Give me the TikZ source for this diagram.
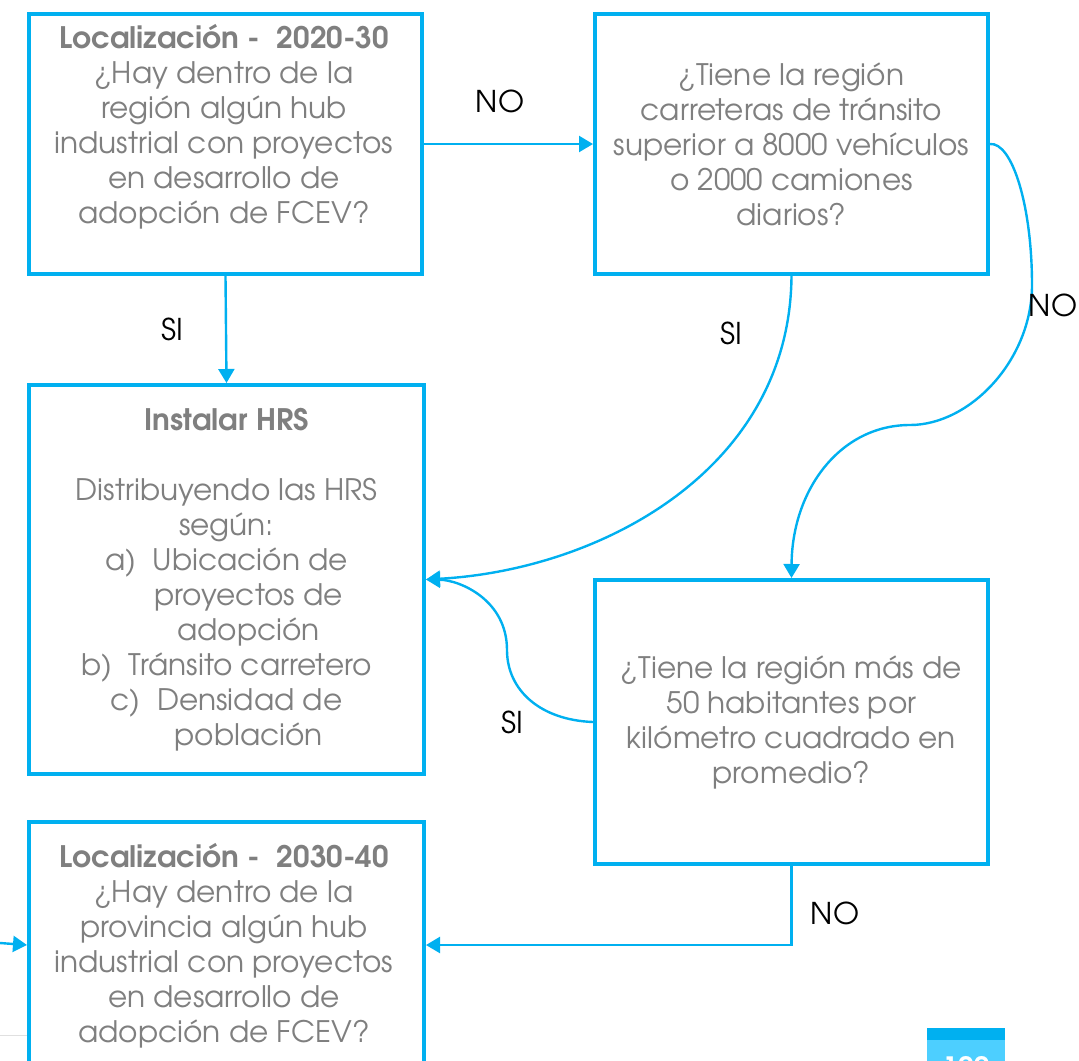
\documentclass[tikz,border=0pt]{standalone}
\usepackage{fontspec}
\setmainfont{texgyreadventor-regular.otf}[BoldFont=texgyreadventor-bold.otf]
\usetikzlibrary{arrows.meta}
\definecolor{lblue}{RGB}{0,176,240}
\definecolor{tgray}{RGB}{127,127,127}
\definecolor{pblue}{RGB}{77,207,255}
\begin{document}
\begin{tikzpicture}[x=0.75pt,y=-0.75pt,
  box/.style={draw=lblue, line width=3pt, fill=white, inner sep=0pt, anchor=north west},
  txt/.style={text=tgray, font=\fontsize{22.2}{26.25}\selectfont, align=center, inner sep=0pt},
  lbl/.style={text=black, font=\fontsize{22.5}{26}\selectfont, inner sep=0pt},
  conn/.style={draw=lblue, line width=1.8pt, -{Triangle[length=10.5pt,width=12pt]}}]
\useasboundingbox (0,0) rectangle (1079,1061);
\clip (0,0) rectangle (1079,1061);

% footer line
\draw[black!12, line width=0.75pt] (0,1035) -- (30,1035);

% boxes
\node[box, minimum width=294.75pt, minimum height=195pt] (A) at (27,12) {};
\node[txt] (At) at (224,127) {\textbf{Localización -\ \ 2020-30}\\¿Hay dentro de la\\región algún hub\\industrial con proyectos\\en desarrollo de\\adopción de FCEV?};

\node[box, minimum width=294.75pt, minimum height=195pt, txt] (B) at (593,12)
  {¿Tiene la región\\carreteras de tránsito\\superior a 8000 vehículos\\o 2000 camiones\\diarios?};

\node[box, minimum width=296.25pt, minimum height=291.75pt, txt] (C) at (27,383)
  {\textbf{Instalar HRS}\\[26.25pt]Distribuyendo las HRS\\según:\\a)\ \ Ubicación de\\\hspace*{1.5em}proyectos de\\\hspace*{1.5em}adopción\\b)\ \ Tránsito carretero\\c)\ \ Densidad de\\\hspace*{1.5em}población};

\node[box, minimum width=294.75pt, minimum height=213pt, txt] (D) at (593,578)
  {¿Tiene la región más de\\50 habitantes por\\kilómetro cuadrado en\\promedio?};

\node[box, minimum width=296.25pt, minimum height=184.5pt] (E) at (27,820) {};
\node[txt] (Et) at (224,946) {\textbf{Localización -\ \ 2030-40}\\¿Hay dentro de la\\provincia algún hub\\industrial con proyectos\\en desarrollo de\\adopción de FCEV?};

% connectors
\draw[conn] (A.east) -- (B.west);
\draw[conn] (A.south) -- (C.north);
\draw[conn] (B.south) .. controls (790,470) and (600,570) .. (C.east);
\draw[conn] (B.east) .. controls (1012,142) and (1032,205) .. (1032,285)
  .. controls (1032,360) and (970,425) .. (910,425)
  .. controls (840,425) and (792,490) .. (D.north);
\draw[conn] (D.west) .. controls (540,720) and (507,690) .. (507,650)
  .. controls (507,600) and (460,580) .. (C.east);
\draw[conn] (D.south) |- (E.east);
\coordinate (L) at (0,943);
\draw[conn] (L) -- (E.west);

% labels
\node[lbl] (l1) at (500,101) {NO};
\node[lbl] (l2) at (172,329) {SI};
\node[lbl] (l3) at (731,333) {SI};
\node[lbl] (l4) at (1053,305) {NO};
\node[lbl] (l5) at (512,722) {SI};
\node[lbl] (l6) at (835,913) {NO};

% page number
\fill[pblue] (927,1040) rectangle (1005,1090);
\fill[lblue] (927,1028) rectangle (1005,1040);
\node[text=white, font=\bfseries\fontsize{21}{26}\selectfont, inner sep=0pt] (pg) at (966,1067) {100};
\end{tikzpicture}
\end{document}
